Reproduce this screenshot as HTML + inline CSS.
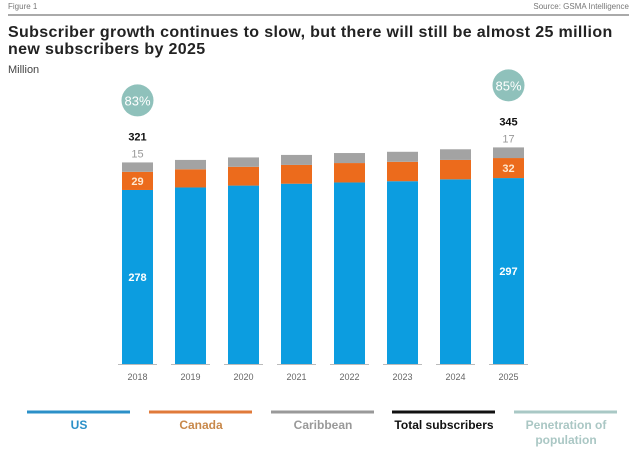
<!DOCTYPE html>
<html><head><meta charset="utf-8"><style>
body{margin:0;background:#fff;font-family:"Liberation Sans",sans-serif;}
svg text{font-family:"Liberation Sans",sans-serif;}
</style></head><body>
<svg width="640" height="449">
<text x="8" y="9" font-size="8" fill="#777">Figure 1</text>
<text x="629" y="9" font-size="8" fill="#777" text-anchor="end">Source: GSMA Intelligence</text>
<line x1="8" y1="15" x2="629" y2="15" stroke="#555" stroke-width="1"/>
<text x="8" y="37" font-size="16" font-weight="bold" fill="#222" letter-spacing="0.35">Subscriber growth continues to slow, but there will still be almost 25 million</text>
<text x="8" y="54" font-size="16" font-weight="bold" fill="#222" letter-spacing="0.35">new subscribers by 2025</text>
<text x="8" y="73" font-size="11" fill="#444">Million</text>
<g id="bars"></g>
<g id="legend"></g>
</svg>
<script>
const years=["2018","2019","2020","2021","2022","2023","2024","2025"];
const us=[278,282,285,288,290,292,295,297];
const canada=[29,29,30,30,31,31,31,32];
const caribbean=[15,15,15,16,16,16,17,17];
const totals=[321,null,null,null,null,null,null,345];
const penetration=[83,null,null,null,null,null,null,85];
const NS="http://www.w3.org/2000/svg";
const g=document.getElementById('bars');
const base=364,scale=0.626,x0=122,step=53,bw=31;
const y=v=>base-v*scale;
function mk(t,a,p){const e=document.createElementNS(NS,t);for(const k in a)e.setAttribute(k,a[k]);(p||g).appendChild(e);return e;}
years.forEach((yr,i)=>{
  const x=x0+i*step;
  let r=mk('rect',{x:x,y:y(us[i]),width:bw,height:us[i]*scale,fill:'#0c9de0'});
  
  
  let c=mk('rect',{x:x,y:y(us[i]+canada[i]),width:bw,height:canada[i]*scale,fill:'#ec6b1c'});
  
  
  const tot=us[i]+canada[i]+caribbean[i];
  let b=mk('rect',{x:x,y:y(tot),width:bw,height:caribbean[i]*scale,fill:'#a3a3a3'});
  
  
  let bl=mk('line',{x1:x-4,x2:x+bw+4,y1:base+0.5,y2:base+0.5,stroke:'#bbb','stroke-width':1});
  
  
  let t=mk('text',{x:x+bw/2,y:380,'font-size':9,fill:'#666','text-anchor':'middle'});t.textContent=yr;
  
  
  if(totals[i]!==null){
    const cx=x+bw/2;
    let l1=mk('text',{x:cx,y:(y(us[i])+base)/2+4,'font-size':11,'font-weight':'bold',fill:'#fff','text-anchor':'middle'});l1.textContent=us[i];
    
    
    let l2=mk('text',{x:cx,y:y(us[i]+canada[i]/2)+4,'font-size':11,'font-weight':'bold',fill:'#fde8d0','text-anchor':'middle'});l2.textContent=canada[i];
    
    
    let l3=mk('text',{x:cx,y:y(tot)-5,'font-size':11,fill:'#999','text-anchor':'middle'});l3.textContent=caribbean[i];
    
    
    let l4=mk('text',{x:cx,y:y(tot)-22,'font-size':11,'font-weight':'bold',fill:'#111','text-anchor':'middle'});l4.textContent=totals[i];
    
    
    const cy=y(tot)-62;
    let ci=mk('circle',{cx:cx,cy:cy,r:16,fill:'#8fc1bb'});
    
    
    let pt=mk('text',{x:cx,y:cy+5,'font-size':13,fill:'#fff','text-anchor':'middle'});pt.textContent=penetration[i]+'%';
    
    
  }
});
const lg=document.getElementById('legend');
const items=[["US","#2b90c8","#2b90c8",27],["Canada","#e07a3a","#c8884a",149],["Caribbean","#999","#999",271],["Total subscribers","#111","#111",392],["Penetration of","#a9c8c5","#aac7c4",514]];
items.forEach(it=>{
  let l=mk('line',{x1:it[3],x2:it[3]+103,y1:412,y2:412,stroke:it[1],'stroke-width':3},lg);
  
  
  let t=mk('text',{x:it[3]+52,y:429,'font-size':12,fill:it[2],'text-anchor':'middle','font-weight':'600'},lg);t.textContent=it[0];
  
  
});
let p2=mk('text',{x:566,y:444,'font-size':12,fill:'#aac7c4','text-anchor':'middle','font-weight':'600'},lg);p2.textContent='population';


</script>
</body></html>
